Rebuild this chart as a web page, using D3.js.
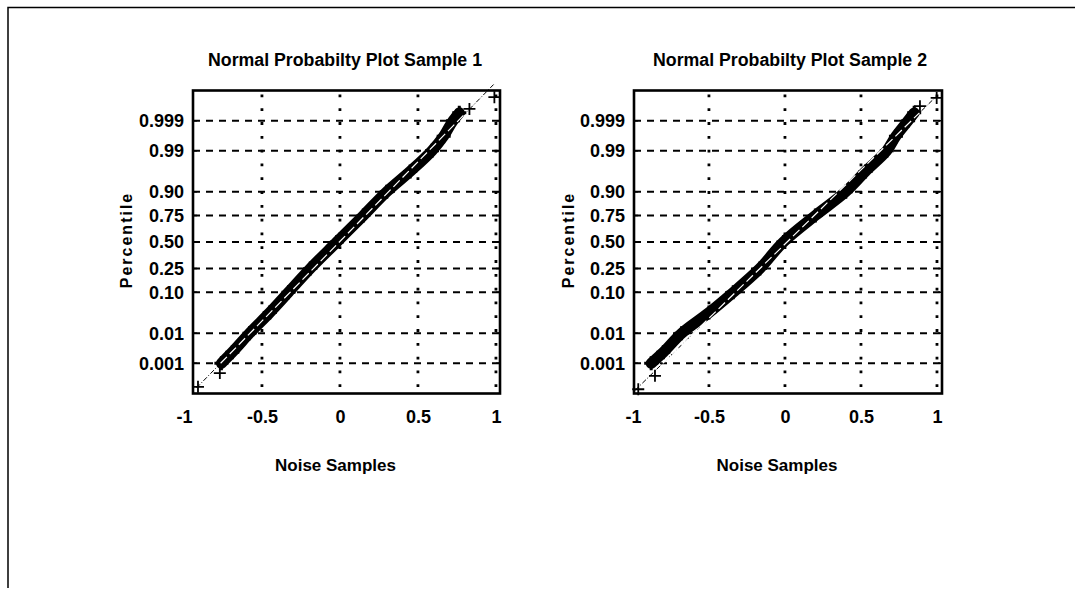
<!DOCTYPE html>
<html><head><meta charset="utf-8">
<script src="https://cdn.jsdelivr.net/npm/d3@7"></script>
<style>
html,body{margin:0;padding:0;background:#fff;}
svg text{font-family:"Liberation Sans",Arial,sans-serif;font-weight:bold;fill:#000;}
</style></head>
<body>
<svg id="c" width="1082" height="596"></svg>
<script>
// ---- data ----
const xTicks = [-1, -0.5, 0, 0.5, 1];
const xTickLabels = ["-1", "-0.5", "0", "0.5", "1"];
const pTicks = [0.001, 0.01, 0.10, 0.25, 0.50, 0.75, 0.90, 0.99, 0.999];
const pTickLabels = ["0.001", "0.01", "0.10", "0.25", "0.50", "0.75", "0.90", "0.99", "0.999"];
const titles = ["Normal Probabilty Plot Sample 1", "Normal Probabilty Plot Sample 2"];
const xLabel = "Noise Samples";
const yLabel = "Percentile";

// band of sorted noise samples: percentile -> sample value
const bandP = [0.001, 0.0025, 0.01, 0.036, 0.10, 0.25, 0.50, 0.75, 0.90, 0.964, 0.99, 0.9965, 0.999, 0.9995];
const sample1X = [-0.76, -0.69, -0.58, -0.45, -0.33, -0.19, -0.02, 0.15, 0.30, 0.45, 0.59, 0.665, 0.725, 0.765];
const sample2X = [-0.88, -0.80, -0.68, -0.50, -0.34, -0.165, -0.01, 0.20, 0.40, 0.53, 0.67, 0.73, 0.81, 0.85];
// isolated extreme samples
const tail1P = [0.000112, 0.00042, 0.99965, 0.999888];
const tail1X = [-0.91, -0.77, 0.83, 0.99];
const tail2P = [0.000088, 0.000325, 0.99973, 0.999879];
const tail2X = [-0.965, -0.855, 0.888, 0.998];
// reference line end points (percentile, value)
const ref1P = [0.0001, 0.99997];
const ref1X = [-0.92, 0.985];
const ref2P = [0.00008, 0.99990];
const ref2X = [-0.985, 0.998];

// inverse normal CDF (probability-paper axis transform)
function probit(p){
  const a=[-3.969683028665376e+01,2.209460984245205e+02,-2.759285104469687e+02,1.383577518672690e+02,-3.066479806614716e+01,2.506628277459239e+00];
  const b=[-5.447609879822406e+01,1.615858368580409e+02,-1.556989798598866e+02,6.680131188771972e+01,-1.328068155288572e+01];
  const c=[-7.784894002430293e-03,-3.223964580411365e-01,-2.400758277161838e+00,-2.549732539343734e+00,4.374664141464968e+00,2.938163982698783e+00];
  const d=[7.784695709041462e-03,3.224671290700398e-01,2.445134137142996e+00,3.754408661907416e+00];
  const pl=0.02425, ph=1-pl; let q,r;
  if(p<pl){q=Math.sqrt(-2*Math.log(p));return (((((c[0]*q+c[1])*q+c[2])*q+c[3])*q+c[4])*q+c[5])/((((d[0]*q+d[1])*q+d[2])*q+d[3])*q+1);}
  if(p<=ph){q=p-0.5;r=q*q;return (((((a[0]*r+a[1])*r+a[2])*r+a[3])*r+a[4])*r+a[5])*q/(((((b[0]*r+b[1])*r+b[2])*r+b[3])*r+b[4])*r+1);}
  q=Math.sqrt(-2*Math.log(1-p));return -(((((c[0]*q+c[1])*q+c[2])*q+c[3])*q+c[4])*q+c[5])/((((d[0]*q+d[1])*q+d[2])*q+d[3])*q+1);
}

const svg = d3.select("#c");
// outer frame of the page
svg.append("path").attr("d","M8,588V7.5H1075").attr("fill","none").attr("stroke","#000").attr("stroke-width",1.5);

const panels = [
  {x0:193, x1:500, xd:[-0.942, 1.026], title:titles[0], bx:sample1X, tp:tail1P, tx:tail1X, rp:ref1P, rx:ref1X, cx:345, ylx:132},
  {x0:634, x1:942, xd:[-0.993, 1.033], title:titles[1], bx:sample2X, tp:tail2P, tx:tail2X, rp:ref2P, rx:ref2X, cx:790, ylx:574}
];
const yTop = 90.5, yBot = 393.5;

panels.forEach((P, i) => {
  const x = d3.scaleLinear().domain(P.xd).range([P.x0, P.x1]);
  const yz = d3.scaleLinear().domain([-3.86, 3.86]).range([yBot, yTop]);
  const y = p => yz(probit(p));
  const g = svg.append("g");
  const clipId = "clip" + i;
  g.append("clipPath").attr("id", clipId).append("rect")
    .attr("x", P.x0).attr("y", yTop).attr("width", P.x1 - P.x0).attr("height", yBot - yTop);

  // grid
  const grid = g.append("g").attr("clip-path", `url(#${clipId})`);
  grid.selectAll(".hg").data(pTicks).join("line")
    .attr("x1", P.x0).attr("x2", P.x1).attr("y1", d => y(d)).attr("y2", d => y(d))
    .attr("stroke", "#000").attr("stroke-width", 2).attr("stroke-dasharray", "7,6");
  grid.selectAll(".vg").data(xTicks.filter(v => v > -1)).join("line")
    .attr("x1", d => x(d)).attr("x2", d => x(d)).attr("y1", yTop + 4).attr("y2", yBot)
    .attr("stroke", "#000").attr("stroke-width", 2.8).attr("stroke-dasharray", "2.8,11");

  // reference line (dark, thin dash-dot)
  const refPts = P.rp.map((p, k) => [P.rx[k], p]);
  const refLine = d3.line().x(d => x(d[0])).y(d => y(d[1]));
  g.append("path").attr("d", refLine(refPts)).attr("fill", "none")
    .attr("stroke", "#000").attr("stroke-width", 1).attr("stroke-dasharray", "5,2,1,2");

  // band of samples
  const band = bandP.map((p, k) => [P.bx[k], p]);
  const bandLine = d3.line().x(d => x(d[0])).y(d => y(d[1])).curve(d3.curveMonotoneY);
  g.append("path").attr("d", bandLine(band)).attr("fill", "none")
    .attr("stroke", "#000").attr("stroke-width", 11).attr("stroke-linecap", "round").attr("stroke-linejoin", "round");
  // '+' markers on the band
  const plus = (sel, pts, s, w) => sel.selectAll(null).data(pts).join("path")
    .attr("d", d => `M${x(d[0]) - s},${y(d[1])}H${x(d[0]) + s}M${x(d[0])},${y(d[1]) - s}V${y(d[1]) + s}`)
    .attr("stroke", "#000").attr("stroke-width", w).attr("fill", "none");
  plus(g.append("g"), band, 7, 3);

  // reference line showing through the band (light)
  const zb = d3.extent(bandP);
  const slope = (P.rx[1] - P.rx[0]) / (probit(P.rp[1]) - probit(P.rp[0]));
  const inner = zb.map(p => [P.rx[0] + slope * (probit(p) - probit(P.rp[0])) , p]);
  g.append("path").attr("d", refLine(inner)).attr("fill", "none")
    .attr("stroke", "#fff").attr("stroke-width", 1.2).attr("stroke-dasharray", "9,4");

  // isolated extremes
  plus(g.append("g"), P.tp.map((p, k) => [P.tx[k], p]), 6, 1.8);

  // frame
  g.append("rect").attr("x", P.x0).attr("y", yTop).attr("width", P.x1 - P.x0).attr("height", yBot - yTop)
    .attr("fill", "none").attr("stroke", "#000").attr("stroke-width", 2.6);
  // inward ticks
  g.selectAll(".yt").data(pTicks).join("path")
    .attr("d", d => `M${P.x0},${y(d)}h4M${P.x1},${y(d)}h-4`).attr("stroke", "#000").attr("stroke-width", 1.5);

  // axes labels via d3 axes
  const xa = d3.axisBottom(x).tickValues(xTicks).tickFormat((d, k) => xTickLabels[k]).tickSize(0).tickPadding(0);
  const xg = g.append("g").attr("transform", `translate(0,${yBot + 29.5})`).call(xa);
  xg.select(".domain").remove();
  xg.selectAll("text").attr("dy", 0).attr("y", 0);

  const ya = d3.axisLeft(yz).tickValues(pTicks.map(probit)).tickFormat((d, k) => pTickLabels[k]).tickSize(0).tickPadding(9);
  const yg = g.append("g").attr("transform", `translate(${P.x0},0)`).call(ya);
  yg.select(".domain").remove();

  [xg, yg].forEach(a => a.attr("font-size", null).attr("font-family", null)
    .selectAll("text").style("font-size", "18px").style("font-family", '"Liberation Sans",Arial,sans-serif').style("font-weight", "bold"));

  g.append("text").attr("x", P.cx).attr("y", 66).attr("text-anchor", "middle")
    .style("font-size", "18px").attr("textLength", 274).attr("lengthAdjust", "spacingAndGlyphs").text(P.title);
  g.append("text").attr("x", (P.x0 + P.x1) / 2 - 11).attr("y", 471).attr("text-anchor", "middle")
    .style("font-size", "17px").text(xLabel);
  g.append("text").attr("transform", `translate(${P.ylx},${(yTop + yBot) / 2 - 2}) rotate(-90)`)
    .attr("text-anchor", "middle").style("font-size", "16px").attr("letter-spacing", "2px").text(yLabel);
});
</script>
</body></html>
